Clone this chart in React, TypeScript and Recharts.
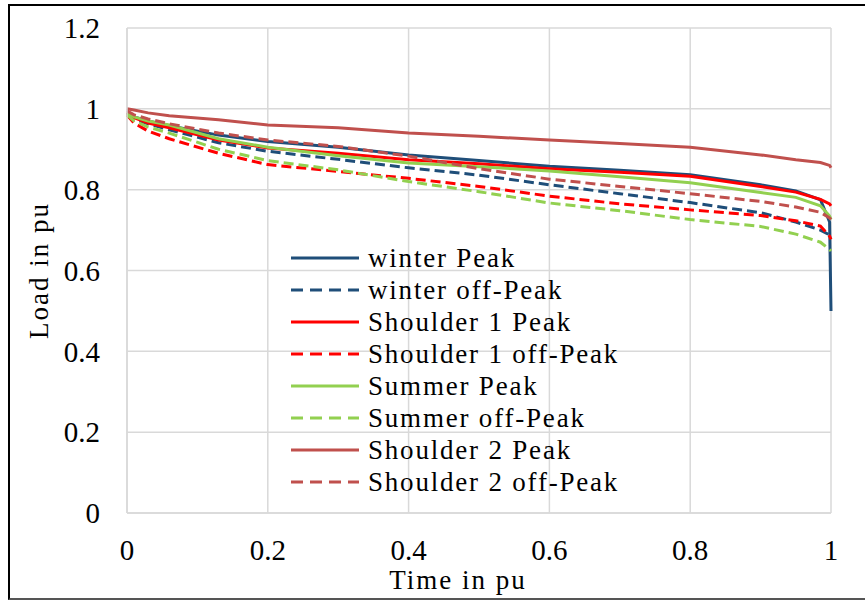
import { CartesianGrid, Legend, Line, LineChart, XAxis, YAxis } from "recharts";

// time in pu (x positions of the read points)
const timePu = [0, 0.01, 0.03, 0.06, 0.13, 0.2, 0.3, 0.4, 0.5, 0.6, 0.7, 0.8, 0.9, 0.95, 0.985, 0.998, 1];

const winterPeak = [0.99, 0.98, 0.97, 0.958, 0.935, 0.919, 0.905, 0.886, 0.872, 0.858, 0.848, 0.837, 0.812, 0.797, 0.775, 0.72, 0.5];
const winterOffPeak = [0.99, 0.975, 0.963, 0.948, 0.916, 0.895, 0.875, 0.854, 0.836, 0.812, 0.79, 0.768, 0.743, 0.72, 0.7, 0.688, 0.685];
const shoulder1Peak = [0.99, 0.978, 0.965, 0.953, 0.923, 0.903, 0.89, 0.874, 0.864, 0.852, 0.843, 0.833, 0.808, 0.794, 0.776, 0.765, 0.76];
const shoulder1OffPeak = [0.985, 0.965, 0.945, 0.926, 0.89, 0.862, 0.845, 0.828, 0.808, 0.784, 0.765, 0.75, 0.736, 0.723, 0.71, 0.685, 0.677];
const summerPeak = [0.99, 0.98, 0.97, 0.96, 0.926, 0.905, 0.884, 0.866, 0.857, 0.846, 0.832, 0.817, 0.793, 0.781, 0.76, 0.735, 0.726];
const summerOffPeak = [0.985, 0.97, 0.955, 0.94, 0.9, 0.872, 0.849, 0.82, 0.795, 0.767, 0.748, 0.726, 0.709, 0.69, 0.67, 0.652, 0.648];
const shoulder2Peak = [1.0, 0.997, 0.99, 0.983, 0.973, 0.96, 0.953, 0.94, 0.932, 0.923, 0.914, 0.905, 0.886, 0.874, 0.867, 0.86, 0.854];
const shoulder2OffPeak = [0.995, 0.985, 0.975, 0.963, 0.94, 0.923, 0.907, 0.883, 0.852, 0.826, 0.808, 0.79, 0.771, 0.757, 0.744, 0.73, 0.726];

const xTicks = [0, 0.2, 0.4, 0.6, 0.8, 1];
const yTicks = [0, 0.2, 0.4, 0.6, 0.8, 1, 1.2];

const series = [
  { key: "winterPeak", name: "winter Peak", values: winterPeak, color: "#1F4E79", dashed: false },
  { key: "winterOffPeak", name: "winter off-Peak", values: winterOffPeak, color: "#1F4E79", dashed: true },
  { key: "shoulder1Peak", name: "Shoulder 1 Peak", values: shoulder1Peak, color: "#FF0000", dashed: false },
  { key: "shoulder1OffPeak", name: "Shoulder 1 off-Peak", values: shoulder1OffPeak, color: "#FF0000", dashed: true },
  { key: "summerPeak", name: "Summer Peak", values: summerPeak, color: "#92D050", dashed: false },
  { key: "summerOffPeak", name: "Summer off-Peak", values: summerOffPeak, color: "#92D050", dashed: true },
  { key: "shoulder2Peak", name: "Shoulder 2 Peak", values: shoulder2Peak, color: "#C0504D", dashed: false },
  { key: "shoulder2OffPeak", name: "Shoulder 2 off-Peak", values: shoulder2OffPeak, color: "#C0504D", dashed: true },
];

const data = timePu.map((t, i) => {
  const row: Record<string, number> = { t };
  series.forEach((s) => {
    row[s.key] = s.values[i];
  });
  return row;
});

const font = "Liberation Serif";
const gridColor = "#d9d9d9";

function LegendBox() {
  return (
    <div style={{ fontFamily: font, fontSize: 27, color: "#000" }}>
      {series.map((s) => (
        <div key={s.key} style={{ display: "flex", alignItems: "center", height: 32 }}>
          <svg width={70} height={32}>
            <line
              x1={1}
              x2={69}
              y1={16}
              y2={16}
              stroke={s.color}
              strokeWidth={3}
              strokeDasharray={s.dashed ? "12 7" : undefined}
            />
          </svg>
          <span style={{ marginLeft: 8, letterSpacing: 1.8, lineHeight: "32px", whiteSpace: "nowrap" }}>
            {s.name}
          </span>
        </div>
      ))}
    </div>
  );
}

export default function App() {
  return (
    <div style={{ position: "absolute", left: 0, top: 0, width: 865, height: 601, background: "#fff", fontFamily: font }}>
      <div
        style={{
          position: "absolute",
          left: 8,
          top: 4,
          width: 870,
          height: 596,
          borderLeft: "2px solid #000",
          borderTop: "2px solid #000",
          borderBottom: "2px solid #555",
          boxSizing: "border-box",
          pointerEvents: "none",
        }}
      />
      <LineChart
        width={865}
        height={601}
        data={data}
        margin={{ top: 28, right: 34, left: 0, bottom: 0 }}
        style={{ position: "absolute", left: 0, top: 0, fontFamily: font }}
      >
        <CartesianGrid stroke={gridColor} strokeWidth={1.5} />
        <XAxis
          dataKey="t"
          type="number"
          domain={[0, 1]}
          ticks={xTicks}
          height={88}
          tickSize={0}
          tickMargin={26}
          axisLine={{ stroke: gridColor, strokeWidth: 1.5 }}
          tick={{ fontSize: 29, fill: "#000", fontFamily: font }}
          label={{
            value: "Time in pu",
            position: "insideBottom",
            offset: 12,
            dx: -21,
            style: { fontSize: 27, fill: "#000", fontFamily: font, letterSpacing: 2 },
          }}
        />
        <YAxis
          type="number"
          domain={[0, 1.2]}
          ticks={yTicks}
          width={127}
          tickSize={0}
          tickMargin={27}
          axisLine={{ stroke: gridColor, strokeWidth: 1.5 }}
          tick={{ fontSize: 29, fill: "#000", fontFamily: font }}
          label={{
            value: "Load in pu",
            angle: -90,
            position: "insideLeft",
            offset: 38,
            style: { fontSize: 27, fill: "#000", fontFamily: font, letterSpacing: 2, textAnchor: "middle" },
          }}
        />
        <Legend
          layout="vertical"
          align="center"
          verticalAlign="middle"
          content={() => <LegendBox />}
          wrapperStyle={{ left: 290, top: 242, width: "auto" }}
        />
        {series.map((s) => (
          <Line
            key={s.key}
            type="linear"
            dataKey={s.key}
            name={s.name}
            stroke={s.color}
            strokeWidth={3}
            strokeDasharray={s.dashed ? "10 5" : undefined}
            dot={false}
            activeDot={false}
            isAnimationActive={false}
          />
        ))}
      </LineChart>
    </div>
  );
}
